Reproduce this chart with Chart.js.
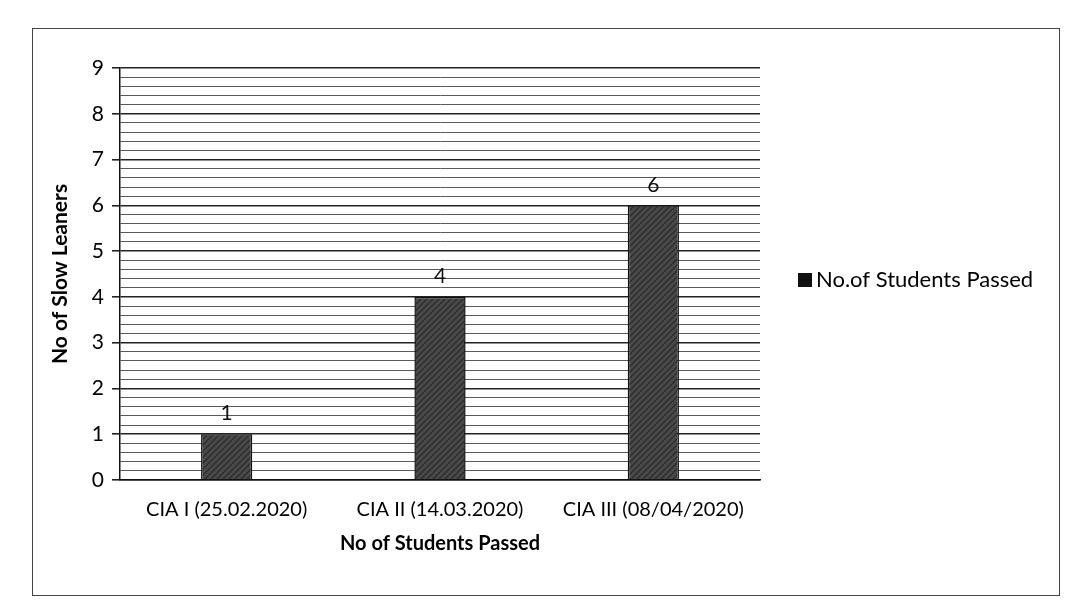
<!DOCTYPE html>
<html>
<head>
<meta charset="utf-8">
<script src="https://cdn.jsdelivr.net/npm/chart.js@4.4.1/dist/chart.umd.min.js"></script>
<style>
  html, body { margin: 0; padding: 0; background: #fff; }
  #wrap { position: relative; width: 1080px; height: 608px; }
  #frame { position: absolute; left: 32px; top: 28px; width: 1026px; height: 566px; border: 1.5px solid #444; }
  canvas { position: absolute; left: 0; top: 0; }
</style>
</head>
<body>
<div id="wrap">
  <div id="frame"></div>
  <canvas id="chart" width="1080" height="608"></canvas>
</div>
<script>
const categories = ["CIA I (25.02.2020)", "CIA II (14.03.2020)", "CIA III (08/04/2020)"];
const passed = [1, 4, 6];
const seriesLabel = "No.of Students Passed";
const yTitle = "No of Slow Leaners";
const xTitle = "No of Students Passed";

const FONT = "Lato, 'Open Sans', sans-serif";

function hatch() {
  const c = document.createElement("canvas");
  c.width = 6; c.height = 6;
  const g = c.getContext("2d");
  g.fillStyle = "#4a4a4a";
  g.fillRect(0, 0, 6, 6);
  g.strokeStyle = "#2e2e2e";
  g.lineWidth = 1.5;
  g.beginPath();
  g.moveTo(0, 6); g.lineTo(6, 0);
  g.moveTo(-3, 3); g.lineTo(3, -3);
  g.moveTo(3, 9); g.lineTo(9, 3);
  g.stroke();
  return document.getElementById("chart").getContext("2d").createPattern(c, "repeat");
}

const isMajor = v => Math.abs(v - Math.round(v)) < 1e-6;

const valueLabels = {
  id: "valueLabels",
  afterDatasetsDraw(chart) {
    const ctx = chart.ctx;
    const meta = chart.getDatasetMeta(0);
    ctx.save();
    ctx.font = "21px " + FONT;
    ctx.fillStyle = "#111";
    ctx.textAlign = "center";
    ctx.textBaseline = "bottom";
    meta.data.forEach((bar, i) => {
      ctx.fillText(String(chart.data.datasets[0].data[i]), bar.x, bar.y - 10);
    });
    ctx.restore();
  }
};

const sideLegend = {
  id: "sideLegend",
  afterDraw(chart) {
    const ctx = chart.ctx;
    const a = chart.chartArea;
    const x = a.right + 38;
    const y = (a.top + a.bottom) / 2 + 6;
    ctx.save();
    ctx.fillStyle = "#111";
    ctx.fillRect(x, y - 7, 14, 14);
    ctx.font = "22px " + FONT;
    ctx.fillStyle = "#000";
    ctx.textBaseline = "middle";
    ctx.fillText(chart.data.datasets[0].label, x + 18, y);
    ctx.restore();
  }
};

new Chart(document.getElementById("chart"), {
  type: "bar",
  data: {
    labels: categories,
    datasets: [{
      label: seriesLabel,
      data: passed,
      backgroundColor: hatch(),
      borderColor: "#111",
      borderWidth: 1.5,
      categoryPercentage: 1,
      barPercentage: 0.24
    }]
  },
  options: {
    responsive: false,
    animation: false,
    layout: { padding: { left: 44, top: 68, right: 320, bottom: 48 } },
    plugins: { legend: { display: false }, tooltip: { enabled: false } },
    scales: {
      x: {
        grid: { display: false, drawTicks: false },
        border: { color: "#111", width: 1.5 },
        ticks: { color: "#000", font: { family: FONT, size: 20 }, padding: 18, maxRotation: 0 },
        title: { display: true, text: xTitle, color: "#000", font: { family: FONT, size: 20, weight: "bold" }, padding: { top: 4 } },
        afterFit: s => { s.height = 80; }
      },
      y: {
        min: 0,
        max: 9,
        border: { color: "#111", width: 1.5 },
        ticks: {
          stepSize: 0.2,
          autoSkip: false,
          color: "#000",
          font: { family: FONT, size: 21 },
          padding: 8,
          callback: v => isMajor(v) ? String(Math.round(v)) : ""
        },
        grid: {
          color: c => isMajor(c.tick.value) ? "#222" : "#5a5a5a",
          lineWidth: c => isMajor(c.tick.value) ? 1.6 : 1,
          tickColor: c => isMajor(c.tick.value) ? "#222" : "rgba(0,0,0,0)",
          tickLength: 8
        },
        title: { display: true, text: yTitle, color: "#000", font: { family: FONT, size: 21, weight: "bold" }, padding: { bottom: 4 } },
        afterFit: s => { s.width = 76; }
      }
    }
  },
  plugins: [valueLabels, sideLegend]
});
</script>
</body>
</html>
